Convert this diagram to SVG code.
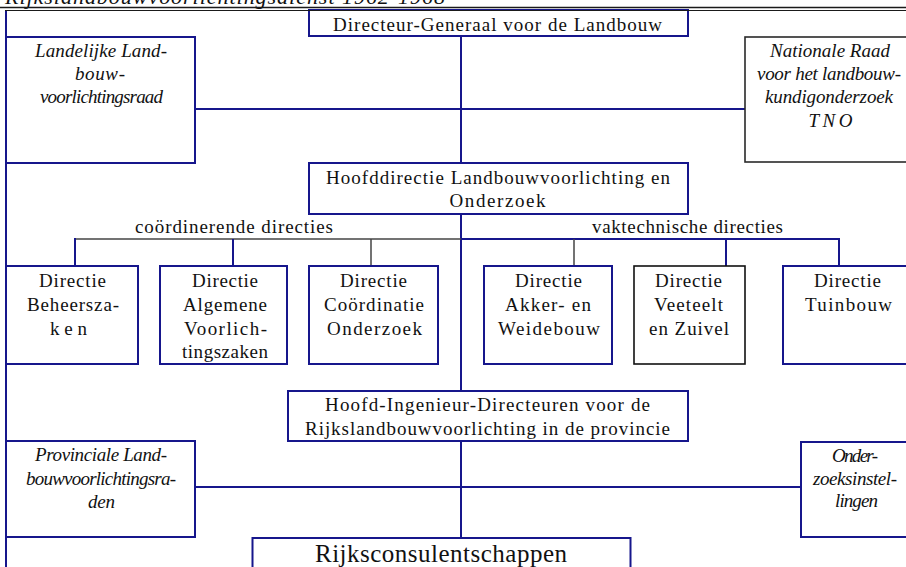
<svg xmlns="http://www.w3.org/2000/svg" width="906" height="567" viewBox="0 0 906 567">
<style>
.bg{fill:#ffffff}
.box{fill:#ffffff;stroke:#16168c;stroke-width:2}
.boxk{fill:#ffffff;stroke:#2a2a2a;stroke-width:1.6}
.ln{stroke:#16168c;stroke-width:2;fill:none}
.lg{stroke:#444444;stroke-width:1.5;fill:none}
.t{font-family:"Liberation Serif","Times New Roman",serif;font-size:19px;fill:#111111;text-anchor:middle}
.i{font-style:italic}
.big{font-size:25px}
</style>
<rect class="bg" x="0" y="0" width="906" height="567"/>
<text x="5" y="4" style="font-family:'Liberation Serif',serif;font-style:italic;font-size:22px;fill:#111" textLength="440" lengthAdjust="spacing">Rijkslandbouwvoorlichtingsdienst 1962-1968</text>

<g id="connectors">
<line class="ln" x1="461" y1="36" x2="461" y2="163"/>
<line class="ln" x1="195" y1="109" x2="745" y2="109"/>
<line class="ln" x1="461" y1="214" x2="461" y2="391"/>
<line class="lg" x1="75" y1="239" x2="461" y2="239"/>
<line class="ln" x1="461" y1="239" x2="840" y2="239"/>
<line class="ln" x1="75" y1="238" x2="75" y2="266"/>
<line class="ln" x1="233" y1="239" x2="233" y2="266"/>
<line class="lg" x1="371" y1="239" x2="371" y2="266"/>
<line class="lg" x1="574" y1="239" x2="574" y2="266"/>
<line class="ln" x1="726" y1="239" x2="726" y2="266"/>
<line class="ln" x1="839" y1="238" x2="839" y2="266"/>
<line class="ln" x1="461" y1="441" x2="461" y2="538"/>
<line class="ln" x1="195" y1="487" x2="801" y2="487"/>
<line class="ln" x1="6" y1="10" x2="6" y2="567"/>
</g>

<g id="dg">
<rect class="box" x="309" y="10" width="379" height="26"/>
<text class="t" x="497.5" y="31" textLength="329" lengthAdjust="spacing">Directeur-Generaal voor de Landbouw</text>
</g>

<g id="landelijke">
<rect class="box" x="6" y="37" width="189" height="126"/>
<text class="t i" x="101" y="57" textLength="132" lengthAdjust="spacing">Landelijke Land-</text>
<text class="t i" x="100" y="80" textLength="50" lengthAdjust="spacing">bouw-</text>
<text class="t i" x="101.5" y="103" textLength="123" lengthAdjust="spacing">voorlichtingsraad</text>
</g>

<g id="nationale">
<rect class="boxk" x="745" y="37" width="170" height="125"/>
<text class="t i" x="830" y="57" textLength="120" lengthAdjust="spacing">Nationale Raad</text>
<text class="t i" x="829" y="80" textLength="144" lengthAdjust="spacing">voor het landbouw-</text>
<text class="t i" x="829" y="103" textLength="128" lengthAdjust="spacing">kundigonderzoek</text>
<text class="t i" x="830.5" y="127" textLength="44" lengthAdjust="spacing">TNO</text>
</g>

<g id="hoofddirectie">
<rect class="box" x="309" y="163" width="379" height="51"/>
<text class="t" x="498" y="184" textLength="344" lengthAdjust="spacing">Hoofddirectie Landbouwvoorlichting en</text>
<text class="t" x="497.5" y="207" textLength="96" lengthAdjust="spacing">Onderzoek</text>
</g>

<g id="labels">
<text class="t" x="234" y="233" textLength="198" lengthAdjust="spacing">coördinerende directies</text>
<text class="t" x="687.5" y="233" textLength="191" lengthAdjust="spacing">vaktechnische directies</text>
</g>

<g id="beheerszaken">
<rect class="box" x="6" y="266" width="132" height="98"/>
<text class="t" x="72.5" y="287" textLength="67" lengthAdjust="spacing">Directie</text>
<text class="t" x="73" y="311" textLength="92" lengthAdjust="spacing">Beheersza-</text>
<text class="t" x="68.5" y="335" textLength="37" lengthAdjust="spacing">ken</text>
</g>

<g id="algemene">
<rect class="box" x="160" y="266" width="127" height="98"/>
<text class="t" x="225" y="287" textLength="66" lengthAdjust="spacing">Directie</text>
<text class="t" x="225" y="311" textLength="84" lengthAdjust="spacing">Algemene</text>
<text class="t" x="225.5" y="335" textLength="83" lengthAdjust="spacing">Voorlich-</text>
<text class="t" x="225" y="358" textLength="86" lengthAdjust="spacing">tingszaken</text>
</g>

<g id="coordinatie">
<rect class="box" x="309" y="266" width="129" height="98"/>
<text class="t" x="373.5" y="287" textLength="67" lengthAdjust="spacing">Directie</text>
<text class="t" x="374" y="311" textLength="100" lengthAdjust="spacing">Coördinatie</text>
<text class="t" x="374.5" y="335" textLength="95" lengthAdjust="spacing">Onderzoek</text>
</g>

<g id="akker">
<rect class="box" x="484" y="266" width="128" height="98"/>
<text class="t" x="548.5" y="287" textLength="67" lengthAdjust="spacing">Directie</text>
<text class="t" x="548" y="311" textLength="86" lengthAdjust="spacing">Akker- en</text>
<text class="t" x="549" y="335" textLength="102" lengthAdjust="spacing">Weidebouw</text>
</g>

<g id="veeteelt">
<rect class="boxk" x="634" y="266" width="111" height="98" style="stroke:#111"/>
<text class="t" x="688.5" y="287" textLength="67" lengthAdjust="spacing">Directie</text>
<text class="t" x="688.5" y="311" textLength="69" lengthAdjust="spacing">Veeteelt</text>
<text class="t" x="689" y="335" textLength="80" lengthAdjust="spacing">en Zuivel</text>
</g>

<g id="tuinbouw">
<rect class="box" x="783" y="266" width="132" height="98"/>
<text class="t" x="847.5" y="287" textLength="67" lengthAdjust="spacing">Directie</text>
<text class="t" x="848.5" y="311" textLength="87" lengthAdjust="spacing">Tuinbouw</text>
</g>

<g id="hoofdingenieur">
<rect class="box" x="288" y="391" width="400" height="50"/>
<text class="t" x="487.5" y="411" textLength="325" lengthAdjust="spacing">Hoofd-Ingenieur-Directeuren voor de</text>
<text class="t" x="487.5" y="435" textLength="365" lengthAdjust="spacing">Rijkslandbouwvoorlichting in de provincie</text>
</g>

<g id="provinciale">
<rect class="box" x="6" y="441" width="189" height="96"/>
<text class="t i" x="101" y="461" textLength="132" lengthAdjust="spacing">Provinciale Land-</text>
<text class="t i" x="101" y="485" textLength="150" lengthAdjust="spacing">bouwvoorlichtingsra-</text>
<text class="t i" x="101.5" y="508" textLength="27" lengthAdjust="spacing">den</text>
</g>

<g id="onderzoeksinstellingen">
<rect class="box" x="801" y="442" width="114" height="95"/>
<text class="t i" x="855" y="462" textLength="46" lengthAdjust="spacing">Onder-</text>
<text class="t i" x="855" y="485" textLength="84" lengthAdjust="spacing">zoeksinstel-</text>
<text class="t i" x="856.5" y="507" textLength="43" lengthAdjust="spacing">lingen</text>
</g>

<g id="rijksconsulentschappen">
<rect class="box" x="252.5" y="538" width="378" height="40"/>
<text class="t big" x="441" y="562" textLength="252" lengthAdjust="spacing">Rijksconsulentschappen</text>
</g>

<g id="frame">
<line x1="0" y1="7.5" x2="906" y2="7.5" stroke="#1a1a1a" stroke-width="1.6"/>
<line x1="5" y1="10.5" x2="906" y2="10.5" stroke="#1a1a1a" stroke-width="1.2"/>
</g>
</svg>
